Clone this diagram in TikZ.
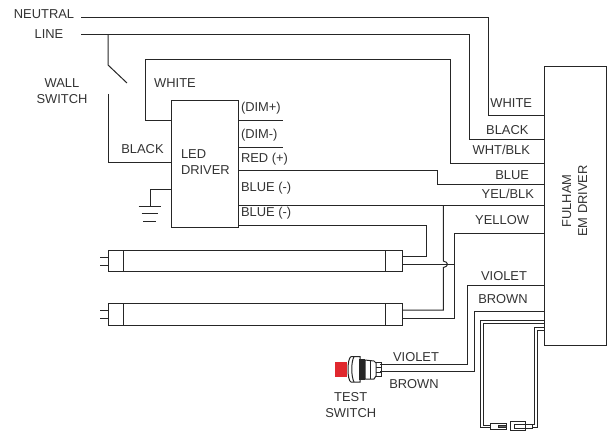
\documentclass[tikz,border=0pt]{standalone}
\usepackage{fontspec}
\setmainfont{Liberation Sans}
\definecolor{ink}{HTML}{262626}
\definecolor{txt}{HTML}{333333}
\definecolor{btn}{HTML}{E0282E}
\tikzset{
  wire/.style={draw=ink,line width=1pt,line join=miter},
  boxn/.style={draw=ink,line width=1pt,fill=none,inner sep=0pt,outer sep=0pt},
  lab/.style={text=txt,font=\fontsize{12.9}{15.4}\selectfont,inner sep=0pt,outer sep=0pt},
  labl/.style={lab,anchor=west},
  labr/.style={lab,anchor=east},
  thin wire/.style={draw=ink,line width=1pt},
}
\begin{document}
\begin{tikzpicture}[x=1pt,y=-1pt]
\useasboundingbox (0,0) rectangle (609,433);
% boxes
\node[boxn,minimum width=67.5pt,minimum height=127pt] (led) at (204.75,163.5) {};
\node[boxn,minimum width=62.7pt,minimum height=278.3pt] (em) at (575.35,205.85) {};
\node[boxn,minimum width=294pt,minimum height=21.7pt] (tubeA) at (255,260.85) {};
\node[boxn,minimum width=294pt,minimum height=21.7pt] (tubeB) at (255,314.25) {};
\draw[wire] (123.5,250) -- (123.5,271.7) (385.7,250) -- (385.7,271.7);
\draw[wire] (123.5,303.4) -- (123.5,325.1) (385.7,303.4) -- (385.7,325.1);
% terminals
\coordinate (nstart) at (81,18);
\coordinate (lstart) at (81,35);
\coordinate (swtop) at (108,65);
\coordinate (swtip) at (127,83);
\coordinate (swbot) at (108,94);
% mains
\draw[wire] (nstart) -- (488,18) |- (em.west |- 0,115);
\draw[wire] (lstart) -- (469,35) |- (em.west |- 0,139);
\draw[wire] (108,35) -- (swtop) -- (swtip);
\draw[wire] (swbot) |- (led.west |- 0,162);
\draw[wire] (led.west |- 0,120) -- (145.5,120) -- (145.5,60) -- (450.7,60) |- (em.west |- 0,163);
% driver outputs
\draw[wire] (led.east |- 0,120) -- (283,120);
\draw[wire] (led.east |- 0,147.5) -- (283,147.5);
\draw[wire] (led.east |- 0,170.3) -- (437,170.3) |- (em.west |- 0,184);
\draw[wire] (led.east |- 0,205) -- (em.west |- 0,205);
\draw[wire] (led.east |- 0,225) -- (426.7,225) |- (tubeA.east |- 0,256.7);
% tube wiring
\draw[wire] (tubeA.east |- 0,264.3) -- (454,264.3);
\draw[wire] (443.3,205) -- (443.3,261) .. controls (446,261.5) and (447.5,263) .. (447.5,264.3) .. controls (447.5,265.6) and (446,267) .. (443.3,267.6) -- (443.3,310) -- (tubeB.east |- 0,310);
\draw[wire] (tubeB.east |- 0,318) -- (454,318) -- (454,233) -- (em.west |- 0,233);
% ground
\coordinate (gnd) at (150,206);
\draw[wire] (led.west |- 0,189) -| (gnd);
\draw[wire] (138.5,206) -- (160.5,206) (141.5,213.5) -- (158,213.5) (143,221) -- (156,221);
% pins
\foreach \y in {257,265} \draw[wire] (100,\y) -- (tubeA.west |- 0,\y);
\foreach \y in {310,318} \draw[wire] (100,\y) -- (tubeB.west |- 0,\y);
% test switch wires
\draw[wire] (380,364.3) -- (467,364.3) -- (467,285.7) -- (em.west |- 0,285.7);
\draw[wire] (380,371.7) -- (474,371.7) -- (474,311) -- (em.west |- 0,311);
% loops
\draw[wire] (em.west |- 0,320.7) -- (480.7,320.7) -- (480.7,427.7) -- (490,427.7);
\draw[wire] (em.west |- 0,323.2) -- (483.3,323.2) -- (483.3,425) -- (490,425);
\draw[wire] (em.west |- 0,327.7) -- (534.3,327.7) -- (534.3,424.7) -- (532.7,424.7);
\draw[wire] (em.west |- 0,330) -- (537,330) -- (537,427) -- (532.7,427);
% plugs
\draw[thin wire] (490,423) rectangle (506,429);
\draw[thin wire,fill=ink!70] (498,425) rectangle (506,427.5);
\draw[thin wire] (510.7,421.7) rectangle (525,430.7);
\draw[thin wire] (514,424) rectangle (525,428);
\draw[thin wire] (525,424) rectangle (532.7,428.5);
% push button
\fill[btn] (335,362) rectangle (347,377);
\draw[wire,fill=white] (360,356.7) -- (351,356.7) .. controls (347,358) and (347,381) .. (351,382) -- (360,382) -- cycle;
\draw[wire] (354,356.7) .. controls (351,362) and (351,376) .. (354,382);
\fill[ink] (359,359) rectangle (365,379.5);
\draw[wire,fill=white] (365,360) -- (374,361) -- (376,363) -- (376,376) -- (374,379) -- (365,379) -- cycle;
\draw[wire] (370,360.5) -- (370,379);
\draw[wire] (376,362.5) -- (381,362.5) -- (381,376.5) -- (376,376.5);
\draw[wire] (376,367) -- (381,367) (376,372) -- (381,372);
% labels
\node[lab] (tNeutral) at (44,14.5) {NEUTRAL};
\node[lab] (tLine) at (49,34) {LINE};
\node[lab,align=center] (tWall) at (62,91) {WALL\\[.6pt]SWITCH};
\node[lab] (tWhite) at (175,83) {WHITE};
\node[lab] (tBlack) at (142.5,149) {BLACK};
\node[lab,align=left,anchor=west] (tLed) at (181,162) {LED\\[.6pt]DRIVER};
\node[labl] (tDp) at (241,108) {(DIM+)};
\node[labl] (tDm) at (241,135) {(DIM-)};
\node[labl] (tRed) at (241,159.5) {RED (+)};
\node[labl] (tBa) at (241,188) {BLUE (-)};
\node[labl] (tBb) at (241,213) {BLUE (-)};
\node[labr] (eWhite) at (532,103) {WHITE};
\node[labr] (eBlack) at (528.5,130) {BLACK};
\node[labr] (eWb) at (530,150) {WHT/BLK};
\node[labr] (eBlue) at (529,175) {BLUE};
\node[labr] (eYb) at (534,194) {YEL/BLK};
\node[labr] (eYel) at (529,220) {YELLOW};
\node[lab] (eVio) at (504,276) {VIOLET};
\node[lab] (eBro) at (503,299) {BROWN};
\node[lab,rotate=90,align=center] (eName) at (574.7,201) {FULHAM\\[.6pt]EM DRIVER};
\node[lab] (sVio) at (416,357) {VIOLET};
\node[lab] (sBro) at (414,384) {BROWN};
\node[lab,align=center] (sName) at (350.7,405) {TEST\\[.6pt]SWITCH};
\end{tikzpicture}
\end{document}
